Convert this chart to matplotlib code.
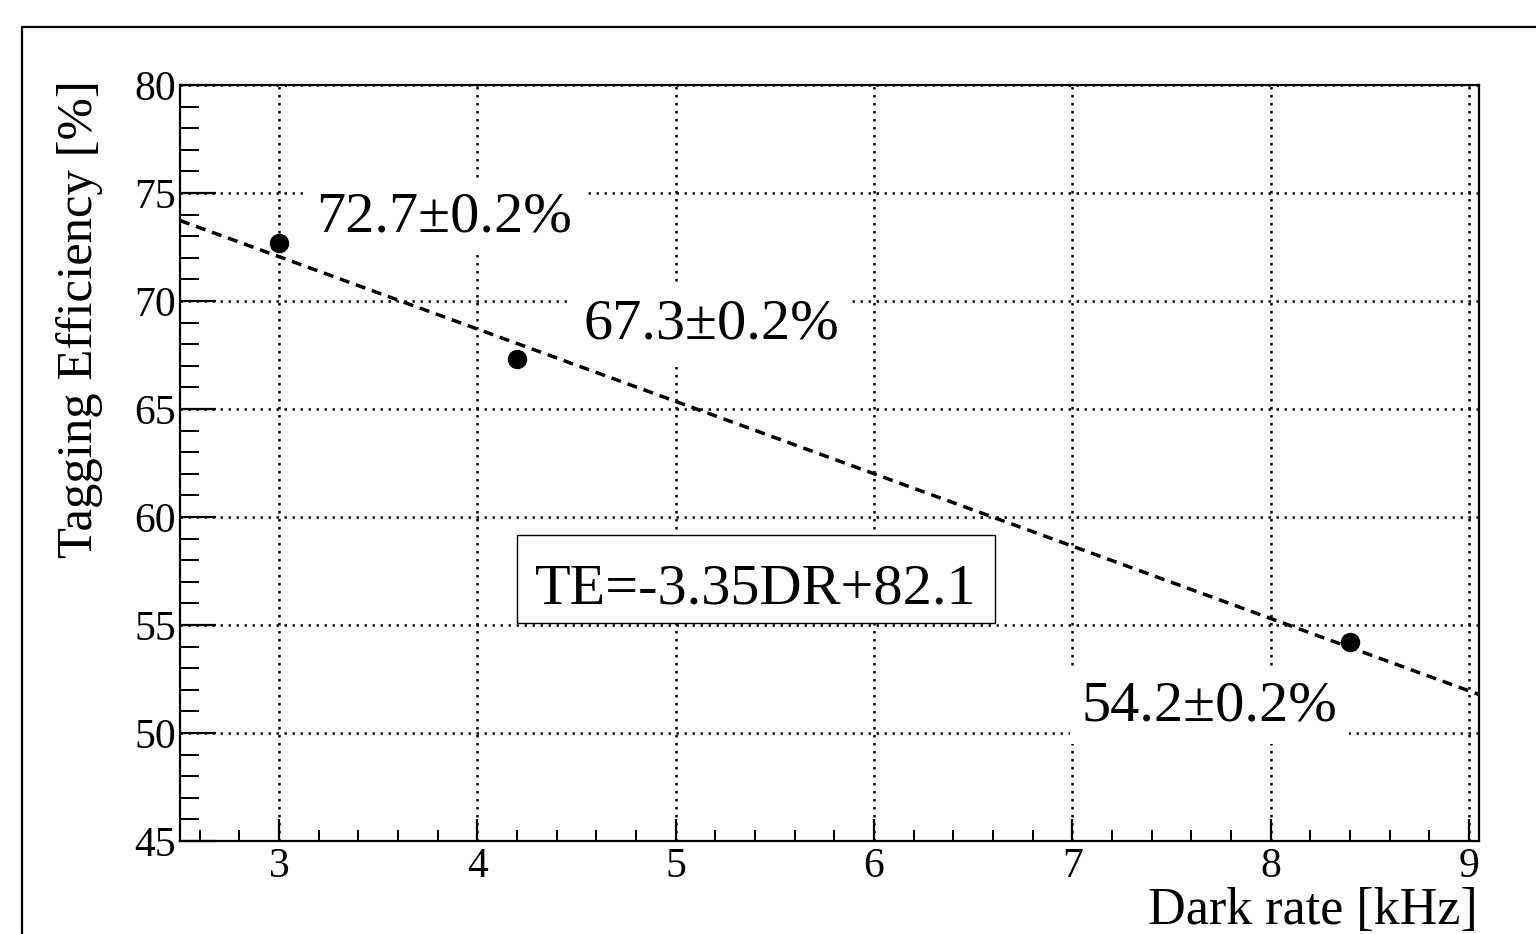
import numpy as np
import matplotlib
matplotlib.use('Agg')
import matplotlib.pyplot as plt
from matplotlib.patches import Rectangle
from matplotlib.ticker import MultipleLocator

# datos
dark_rate = [3.0, 4.2, 8.4]          # kHz
efficiency = [72.7, 67.3, 54.2]      # %
eff_err = [0.2, 0.2, 0.2]
point_labels = ['72.7±0.2%', '67.3±0.2%', '54.2±0.2%']
fit_slope = -3.35
fit_intercept = 82.1
fit_label = 'TE=-3.35DR+82.1'
x_ticks = [3, 4, 5, 6, 7, 8, 9]
y_ticks = [45, 50, 55, 60, 65, 70, 75, 80]

plt.rcParams['font.family'] = ['Liberation Serif', 'DejaVu Serif']

W, H = 1536, 934
fig = plt.figure(figsize=(W / 100, H / 100), dpi=100)
fig.patch.set_facecolor('white')

# marco del canvas (estilo ROOT)
fig.patches.append(Rectangle((22 / W, -0.1), 1.2, 1 - 27 / H + 0.1,
                             transform=fig.transFigure, fill=False,
                             ec='black', lw=1.6))

ax = fig.add_axes([180 / W, 1 - 841 / H, (1479 - 180) / W, (841 - 85) / H])
ax.set_xlim(2.5, 9.05)
ax.set_ylim(45, 80)

ax.grid(True, which='major', color='black', lw=1.8, ls=(0, (1, 2.2)))

# recta de ajuste
fx = np.array([2.5, 9.05])
ax.plot(fx, fit_slope * fx + fit_intercept, color='black', lw=2.5,
        ls=(0, (2.9, 2.0)), zorder=3)

ax.errorbar(dark_rate, efficiency, yerr=eff_err, fmt='o', ms=13,
            color='black', capsize=0, zorder=4)

# etiquetas de cada punto (offsets en pixeles)
offsets = [((37, 11), 'left'), ((66, 21), 'left'), ((-13, -78), 'right')]
for x, y, lab, (off, ha) in zip(dark_rate, efficiency, point_labels, offsets):
    ax.annotate(lab, (x, y), xytext=off, textcoords='offset pixels',
                ha=ha, va='baseline', fontsize=42, zorder=5,
                bbox=dict(boxstyle='square,pad=0.2', fc='white', ec='none'))

# caja con la ecuacion del ajuste
ax.add_patch(Rectangle(((517 - 180) / 1299, (841 - 623) / 756), 478 / 1299, 88 / 756,
                       transform=ax.transAxes, fc='white', ec='black', lw=1.0, zorder=5))
ax.text((756 - 180) / 1299, (841 - 603) / 756, fit_label, transform=ax.transAxes,
        ha='center', va='baseline', fontsize=42, zorder=6)

ax.set_xticks(x_ticks)
ax.set_yticks(y_ticks)
ax.xaxis.set_minor_locator(MultipleLocator(0.2))
ax.yaxis.set_minor_locator(MultipleLocator(1))
ax.tick_params(axis='both', which='both', direction='in', top=False, right=False,
               colors='black', labelsize=30)
ax.tick_params(axis='x', which='major', length=16, width=1.6, pad=5)
ax.tick_params(axis='x', which='minor', length=8, width=1.4)
ax.tick_params(axis='y', which='major', length=26, width=1.6, pad=3)
ax.tick_params(axis='y', which='minor', length=14, width=1.4)
for s in ax.spines.values():
    s.set_linewidth(1.6)

fig.text(80 / W, 1 - 80 / H, 'Tagging Efficiency [%]', rotation=90,
         ha='center', va='top', fontsize=36.5)
fig.text(1478 / W, 1 - 924 / H, 'Dark rate [kHz]', ha='right', va='baseline',
         fontsize=37.5)

fig.savefig('out.png', dpi=100)
